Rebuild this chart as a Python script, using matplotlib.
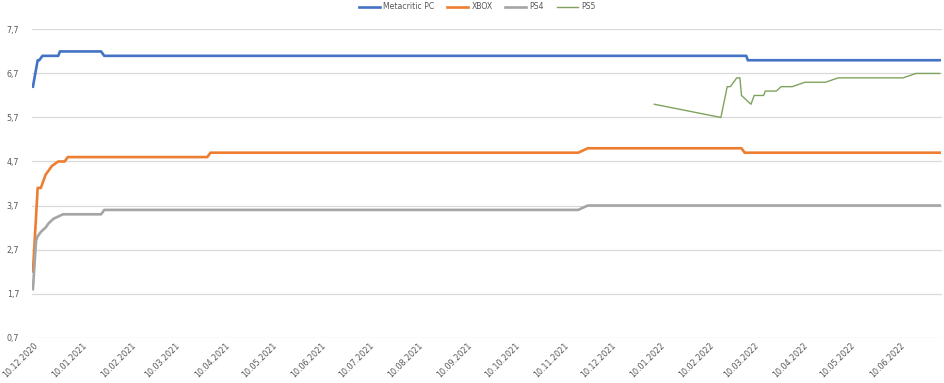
import matplotlib
matplotlib.use("Agg")
import matplotlib.pyplot as plt
import matplotlib.dates as mdates
import numpy as np
import pandas as pd

# ---- data (vertices) ----
pc_dates = ["2020-12-10", "2020-12-13", "2020-12-14", "2020-12-16", "2020-12-26", "2020-12-27",
            "2021-01-22", "2021-01-24", "2022-03-05", "2022-03-06", "2022-07-05"]
pc_vals = [6.4, 7.0, 7.0, 7.1, 7.1, 7.2, 7.2, 7.1, 7.1, 7.0, 7.0]

xbox_dates = ["2020-12-10", "2020-12-13", "2020-12-15", "2020-12-18", "2020-12-20", "2020-12-22",
              "2020-12-26", "2020-12-30", "2021-01-01", "2021-03-30", "2021-04-01",
              "2021-11-19", "2021-11-25", "2022-03-02", "2022-03-04", "2022-07-05"]
xbox_vals = [2.2, 4.1, 4.1, 4.4, 4.5, 4.6, 4.7, 4.7, 4.8, 4.8, 4.9, 4.9, 5.0, 5.0, 4.9, 4.9]

ps4_dates = ["2020-12-10", "2020-12-12", "2020-12-13", "2020-12-15", "2020-12-18", "2020-12-20",
             "2020-12-23", "2020-12-29", "2021-01-22", "2021-01-24", "2021-11-19", "2021-11-25",
             "2022-07-05"]
ps4_vals = [1.8, 2.9, 3.0, 3.1, 3.2, 3.3, 3.4, 3.5, 3.5, 3.6, 3.6, 3.7, 3.7]

ps5_dates = ["2022-01-06", "2022-02-17", "2022-02-21", "2022-02-23", "2022-02-27", "2022-03-01",
             "2022-03-02", "2022-03-05", "2022-03-08", "2022-03-10", "2022-03-16", "2022-03-17",
             "2022-03-24", "2022-03-27", "2022-04-03", "2022-04-11", "2022-04-24", "2022-05-02",
             "2022-06-12", "2022-06-20", "2022-07-05"]
ps5_vals = [6.0, 5.7, 6.4, 6.4, 6.6, 6.6, 6.2, 6.1, 6.0, 6.2, 6.2, 6.3, 6.3, 6.4, 6.4, 6.5,
            6.5, 6.6, 6.6, 6.7, 6.7]

series_names = ["Metacritic PC", "XBOX", "PS4", "PS5"]
y_ticks = [0.7, 1.7, 2.7, 3.7, 4.7, 5.7, 6.7, 7.7]
tick_labels = ["10.12.2020", "10.01.2021", "10.02.2021", "10.03.2021", "10.04.2021",
               "10.05.2021", "10.06.2021", "10.07.2021", "10.08.2021", "10.09.2021",
               "10.10.2021", "10.11.2021", "10.12.2021", "10.01.2022", "10.02.2022",
               "10.03.2022", "10.04.2022", "10.05.2022", "10.06.2022"]

colors = ["#4472C4", "#ED7D31", "#A5A5A5", "#7FA35E"]
widths = [1.9, 1.9, 1.9, 1.0]

fig = plt.figure(figsize=(9.45, 3.83), dpi=100)
ax = fig.add_axes([0.0335, 0.1175, 0.963, 0.8068])

all_series = [(pc_dates, pc_vals), (xbox_dates, xbox_vals), (ps4_dates, ps4_vals), (ps5_dates, ps5_vals)]
for (d, v), name, c, w in zip(all_series, series_names, colors, widths):
    ax.plot(pd.to_datetime(d), v, color=c, lw=w, label=name, solid_joinstyle="round")

start = mdates.date2num(pd.Timestamp("2020-12-10"))
ax.set_xlim(start - 0.8, start + 573.3)
ax.set_ylim(0.69, 7.71)
ax.set_yticks(y_ticks)
ax.set_yticklabels([f"{t:.1f}".replace(".", ",") for t in y_ticks])
tick_pos = mdates.date2num(pd.to_datetime(tick_labels, format="%d.%m.%Y"))
ax.set_xticks(tick_pos)
ax.set_xticklabels(tick_labels, rotation=45, ha="right", rotation_mode="anchor")
ax.tick_params(axis="both", length=0, labelsize=5.8, colors="#595959")
ax.tick_params(axis="y", pad=9)
ax.tick_params(axis="x", pad=2)
ax.grid(axis="y", color="#D9D9D9", lw=0.9)
ax.set_axisbelow(True)
for s in ax.spines.values():
    s.set_visible(False)

leg = fig.legend(loc="upper center", bbox_to_anchor=(0.505, 1.012), ncol=4, frameon=False,
                 fontsize=5.6, handlelength=2.7, columnspacing=1.6, handletextpad=0.45)
for t in leg.get_texts():
    t.set_color("#595959")

fig.savefig("out.png", dpi=100)
